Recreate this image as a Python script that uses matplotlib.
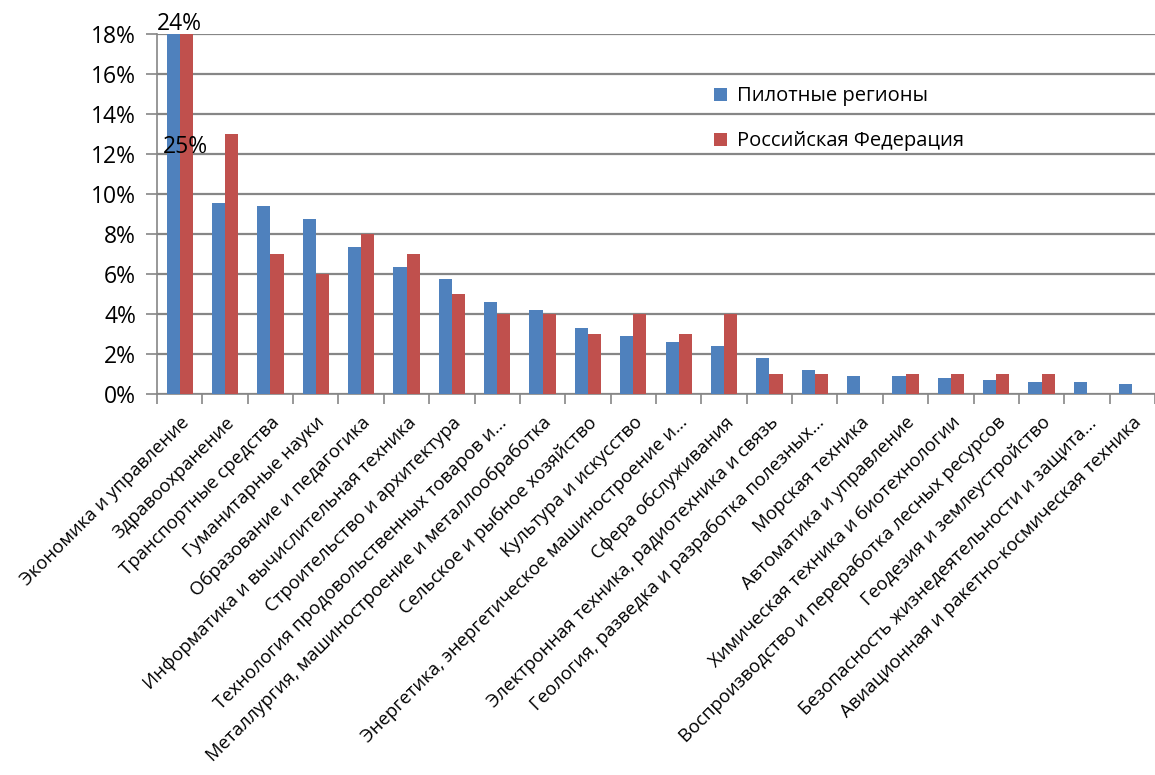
import matplotlib.pyplot as plt
import numpy as np

plt.rcParams['font.family'] = ['Open Sans', 'DejaVu Sans']

categories = [
    "Экономика и управление",
    "Здравоохранение",
    "Транспортные средства",
    "Гуманитарные науки",
    "Образование и педагогика",
    "Информатика и вычислительная техника",
    "Строительство и архитектура",
    "Технология продовольственных товаров и...",
    "Металлургия, машиностроение и металлообработка",
    "Сельское и рыбное хозяйство",
    "Культура и искусство",
    "Энергетика, энергетическое машиностроение и...",
    "Сфера обслуживания",
    "Электронная техника, радиотехника и связь",
    "Геология, разведка и разработка полезных...",
    "Морская техника",
    "Автоматика и управление",
    "Химическая техника и биотехнологии",
    "Воспроизводство и переработка лесных ресурсов",
    "Геодезия и землеустройство",
    "Безопасность жизнедеятельности и защита...",
    "Авиационная и ракетно-космическая техника",
]

# доли, %
pilot = [25, 9.55, 9.4, 8.75, 7.35, 6.35, 5.75, 4.6, 4.2, 3.3, 2.9,
         2.6, 2.4, 1.8, 1.2, 0.9, 0.9, 0.8, 0.7, 0.6, 0.6, 0.5]
russia = [24, 13, 7, 6, 8, 7, 5, 4, 4, 3, 4,
          3, 4, 1, 1, 0, 1, 1, 1, 1, 0, 0]

blue = "#4F81BD"
red = "#C0504D"
grid_col = "#868686"

fig = plt.figure(figsize=(11.55, 7.75), dpi=100)
ax = fig.add_axes([157 / 1155, 381 / 775, 998 / 1155, 360 / 775])

x = np.arange(len(categories))
w = 0.29
ax.bar(x - w / 2, pilot, width=w, color=blue, label="Пилотные регионы", zorder=3)
ax.bar(x + w / 2, russia, width=w, color=red, label="Российская Федерация", zorder=3)

ax.set_ylim(0, 18)
ax.set_xlim(-0.5, len(categories) - 0.5)
yt = np.arange(0, 19, 2)
ax.set_yticks(yt)
ax.set_yticklabels([f"{v}%" for v in yt], fontsize=16.5)
ax.yaxis.grid(True, color=grid_col, linewidth=1.6, zorder=0)
ax.tick_params(axis='y', length=8, color=grid_col, width=1.2, pad=7)

# подписи категорий
ax.set_xticks(x)
ax.set_xticklabels(categories, rotation=45, ha='right', rotation_mode='anchor',
                   fontsize=13.3)
ax.tick_params(axis='x', length=0, pad=14)
ax.set_xticks(np.arange(-0.5, len(categories), 1), minor=True)
ax.tick_params(axis='x', which='minor', length=7, color=grid_col, width=1.2)

for side in ['top', 'right']:
    ax.spines[side].set_visible(False)
ax.spines['left'].set_color(grid_col)
ax.spines['bottom'].set_color(grid_col)
ax.spines['left'].set_linewidth(1.2)
ax.spines['bottom'].set_linewidth(1.2)

# значения, вышедшие за шкалу
ax.text(x[0], 17.9, f"{russia[0]}%", ha='center', va='bottom', fontsize=16.5,
        clip_on=False)
ax.text(x[0] + 0.12, 12.35, f"{pilot[0]}%", ha='center', va='center', fontsize=16.5)

leg = ax.legend(loc='upper left', bbox_to_anchor=(0.54, 0.905), frameon=False,
                fontsize=14.5, handlelength=0.65, handleheight=0.65, labelspacing=1.25,
                handletextpad=0.5)

fig.savefig("out.png", dpi=100)
